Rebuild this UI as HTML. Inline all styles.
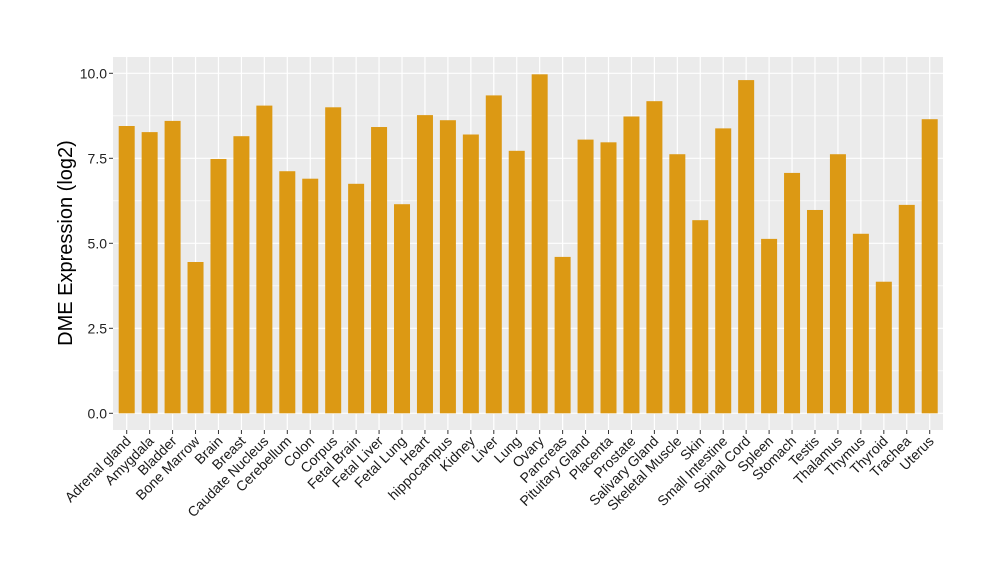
<!DOCTYPE html>
<html><head><meta charset="utf-8"><style>body{margin:0;background:#fff}</style></head><body>
<svg width="1000" height="580" xmlns="http://www.w3.org/2000/svg" font-family="Liberation Sans, sans-serif">
<rect x="113" y="57" width="830" height="373" fill="#ebebeb"/>
<g id="grid"></g>
<g id="bars"></g>
<g id="labels"></g>
<text transform="translate(72,243) rotate(-90)" text-anchor="middle" font-size="20" fill="#000">DME Expression (log2)</text>
</svg>
<script>
const names=["Adrenal gland","Amygdala","Bladder","Bone Marrow","Brain","Breast","Caudate Nucleus","Cerebellum","Colon","Corpus","Fetal Brain","Fetal Liver","Fetal Lung","Heart","hippocampus","Kidney","Liver","Lung","Ovary","Pancreas","Pituitary Gland","Placenta","Prostate","Salivary Gland","Skeletal Muscle","Skin","Small Intestine","Spinal Cord","Spleen","Stomach","Testis","Thalamus","Thymus","Thyroid","Trachea","Uterus"];
const vals=[8.45,8.27,8.6,4.45,7.48,8.15,9.05,7.12,6.9,9.0,6.75,8.42,6.15,8.77,8.62,8.2,9.35,7.72,9.97,4.6,8.05,7.97,8.73,9.18,7.62,5.68,8.38,9.8,5.13,7.07,5.98,7.62,5.28,3.87,6.13,8.65];
const y=v=>413.3-v*34, x=i=>126.7+i*22.943;
let g="",b="",l="";
for(let v=1.25;v<10.5;v+=2.5)g+=`<line x1="113" x2="943" y1="${y(v)}" y2="${y(v)}" stroke="#fff" stroke-width="0.6"/>`;
for(let v=0;v<=10;v+=2.5){g+=`<line x1="113" x2="943" y1="${y(v)}" y2="${y(v)}" stroke="#fff" stroke-width="1.2"/>`;
l+=`<line x1="109" x2="113" y1="${y(v)}" y2="${y(v)}" stroke="#333" stroke-width="1"/><text x="107" y="${y(v)+5}" text-anchor="end" font-size="14" fill="#222">${v.toFixed(1)}</text>`;}
names.forEach((n,i)=>{const cx=x(i);
g+=`<line x1="${cx}" x2="${cx}" y1="57" y2="430" stroke="#fff" stroke-width="1.2"/>`;
b+=`<rect x="${cx-8}" y="${y(vals[i])}" width="16" height="${vals[i]*34}" fill="#dc9914"/>`;
l+=`<line x1="${cx}" x2="${cx}" y1="430" y2="434" stroke="#333" stroke-width="1"/><text transform="translate(${cx+5},${442}) rotate(-45)" text-anchor="end" font-size="14" fill="#1a1a1a">${n}</text>`;});
document.getElementById("grid").innerHTML=g;document.getElementById("bars").innerHTML=b;document.getElementById("labels").innerHTML=l;
</script>
</body></html>
